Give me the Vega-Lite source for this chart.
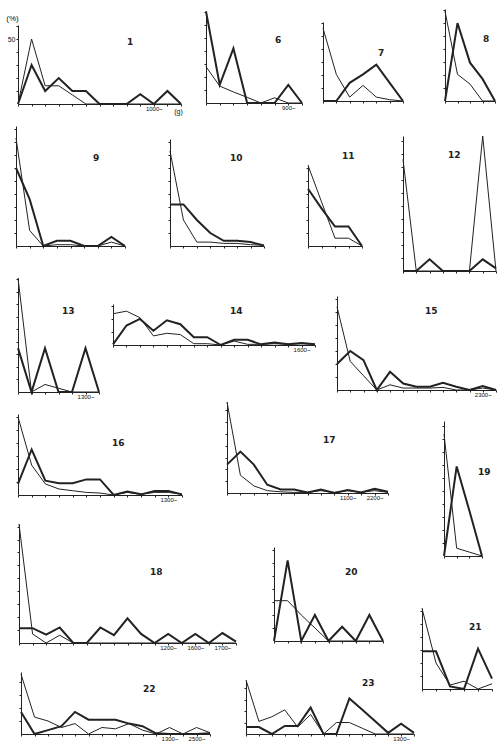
{
"$schema": "https://vega.github.io/schema/vega-lite/v6.json",
"padding": 0,
"autosize": {"type": "pad"},
"background": "white",
"spacing": 0,
"config": {
  "view": {"stroke": null},
  "concat": {"spacing": 0},
  "axis": {"domainColor": "#222", "tickColor": "#222", "tickSize": 2, "grid": false, "labels": false, "labelFontSize": 6, "labelFont": "Liberation Sans", "labelColor": "#111", "labelPadding": -1, "labelOverlap": false, "labelBound": false, "titleFont": "Liberation Sans", "titleColor": "#111", "titleFontWeight": "normal", "domainWidth": 1, "tickWidth": 1},
  "axisX": {"labelAngle": 0},
  "title": {"fontSize": 9, "fontWeight": "bold", "font": "DejaVu Sans", "color": "#222", "anchor": "start", "frame": "group", "offset": 0, "baseline": "middle", "align": "center"},
  "line": {"color": "#222"}
},
"datasets": {
  "p1": [{"i":0,"a":0,"b":0},{"i":1,"a":50,"b":30},{"i":2,"a":14,"b":10},{"i":3,"a":14,"b":20},{"i":4,"a":7,"b":10},{"i":5,"a":0,"b":10},{"i":6,"a":0,"b":0},{"i":7,"a":0,"b":0},{"i":8,"a":0,"b":0},{"i":9,"a":0,"b":7.5},{"i":10,"a":0,"b":0},{"i":11,"a":0,"b":10},{"i":12,"a":0,"b":0}],
  "p6": [{"i":0,"a":28,"b":70.5},{"i":1,"a":13,"b":14},{"i":2,"a":8.5,"b":42},{"i":3,"a":4.4,"b":0},{"i":4,"a":0,"b":0},{"i":5,"a":4,"b":0},{"i":6,"a":0,"b":14},{"i":7,"a":0,"b":0}],
  "p7": [{"i":0,"a":56,"b":0},{"i":1,"a":20.5,"b":0},{"i":2,"a":3,"b":14},{"i":3,"a":12,"b":20.5},{"i":4,"a":3,"b":28},{"i":5,"a":1,"b":14},{"i":6,"a":0,"b":0}],
  "p8": [{"i":0,"a":69,"b":0},{"i":1,"a":20.5,"b":60},{"i":2,"a":13,"b":29.5},{"i":3,"a":0,"b":17},{"i":4,"a":0,"b":0}],
  "p9": [{"i":0,"a":83,"b":60},{"i":1,"a":12,"b":36},{"i":2,"a":0,"b":0},{"i":3,"a":1,"b":4},{"i":4,"a":1,"b":4},{"i":5,"a":0,"b":0},{"i":6,"a":0,"b":0},{"i":7,"a":3,"b":7},{"i":8,"a":0,"b":0}],
  "p10": [{"i":0,"a":73,"b":32},{"i":1,"a":20,"b":32},{"i":2,"a":3,"b":20},{"i":3,"a":3,"b":10},{"i":4,"a":2,"b":4},{"i":5,"a":2,"b":4},{"i":6,"a":1,"b":3},{"i":7,"a":0.5,"b":0.5}],
  "p11": [{"i":0,"a":62,"b":44},{"i":1,"a":34,"b":29},{"i":2,"a":6,"b":15},{"i":3,"a":6,"b":15},{"i":4,"a":0,"b":0}],
  "p12": [{"i":0,"a":86,"b":0},{"i":1,"a":0,"b":0},{"i":2,"a":0,"b":9},{"i":3,"a":0,"b":0},{"i":4,"a":0,"b":0},{"i":5,"a":0,"b":0},{"i":6,"a":104,"b":9},{"i":7,"a":0,"b":2}],
  "p13": [{"i":0,"a":91,"b":35},{"i":1,"a":0,"b":0},{"i":2,"a":6,"b":35},{"i":3,"a":3,"b":0},{"i":4,"a":0,"b":0},{"i":5,"a":0,"b":35},{"i":6,"a":0,"b":0}],
  "p14": [{"i":0,"a":24,"b":0.5},{"i":1,"a":26,"b":15},{"i":2,"a":21,"b":20},{"i":3,"a":7,"b":11},{"i":4,"a":9,"b":19},{"i":5,"a":8,"b":16},{"i":6,"a":1,"b":6},{"i":7,"a":1,"b":6},{"i":8,"a":0,"b":0},{"i":9,"a":3,"b":4},{"i":10,"a":0.5,"b":4},{"i":11,"a":0.5,"b":0.5},{"i":12,"a":1,"b":2},{"i":13,"a":0.5,"b":0.5},{"i":14,"a":1,"b":1.5},{"i":15,"a":0.5,"b":0.5}],
  "p15": [{"i":0,"a":64,"b":20},{"i":1,"a":22,"b":30},{"i":2,"a":11,"b":23},{"i":3,"a":0,"b":0},{"i":4,"a":4,"b":14},{"i":5,"a":1.5,"b":5},{"i":6,"a":1.5,"b":2.5},{"i":7,"a":1.5,"b":2.5},{"i":8,"a":2,"b":5.5},{"i":9,"a":0,"b":2.5},{"i":10,"a":0,"b":0},{"i":11,"a":1.5,"b":3},{"i":12,"a":0,"b":0}],
  "p16": [{"i":0,"a":60,"b":8.5},{"i":1,"a":23,"b":35},{"i":2,"a":8.5,"b":11},{"i":3,"a":4.6,"b":9},{"i":4,"a":3.3,"b":9},{"i":5,"a":2,"b":12},{"i":6,"a":1.5,"b":12},{"i":7,"a":0,"b":0},{"i":8,"a":2,"b":2.6},{"i":9,"a":0.5,"b":0.5},{"i":10,"a":2,"b":3},{"i":11,"a":2,"b":3},{"i":12,"a":0.5,"b":0.5}],
  "p17": [{"i":0,"a":77,"b":24},{"i":1,"a":15,"b":35},{"i":2,"a":6,"b":24},{"i":3,"a":2,"b":7},{"i":4,"a":1,"b":3},{"i":5,"a":0.5,"b":3},{"i":6,"a":0.5,"b":0.5},{"i":7,"a":2,"b":3},{"i":8,"a":0.5,"b":0},{"i":9,"a":2,"b":2.5},{"i":10,"a":0.5,"b":0.5},{"i":11,"a":2,"b":3.5},{"i":12,"a":0.5,"b":1}],
  "p18": [{"i":0,"a":92,"b":11.5},{"i":1,"a":7,"b":11.5},{"i":2,"a":0,"b":6.4},{"i":3,"a":6,"b":12},{"i":4,"a":0,"b":0},{"i":5,"a":0,"b":0},{"i":6,"a":0,"b":12},{"i":7,"a":0,"b":6},{"i":8,"a":0,"b":19},{"i":9,"a":0,"b":7},{"i":10,"a":0,"b":0},{"i":11,"a":0,"b":7},{"i":12,"a":0,"b":0},{"i":13,"a":0,"b":7},{"i":14,"a":0,"b":0},{"i":15,"a":0,"b":7.7},{"i":16,"a":0,"b":1}],
  "p19": [{"i":0,"a":94,"b":0},{"i":1,"a":6,"b":69},{"i":2,"a":3,"b":35},{"i":3,"a":0,"b":0}],
  "p20": [{"i":0,"a":31,"b":0},{"i":1,"a":31,"b":62},{"i":2,"a":20,"b":0},{"i":3,"a":10,"b":20},{"i":4,"a":0,"b":0},{"i":5,"a":0,"b":11},{"i":6,"a":0,"b":0},{"i":7,"a":0,"b":20},{"i":8,"a":0,"b":0}],
  "p21": [{"i":0,"a":62,"b":29},{"i":1,"a":20,"b":29},{"i":2,"a":3,"b":2},{"i":3,"a":6,"b":0},{"i":4,"a":0,"b":31},{"i":5,"a":4,"b":8}],
  "p22": [{"i":0,"a":46,"b":17},{"i":1,"a":13,"b":0},{"i":2,"a":10,"b":3},{"i":3,"a":5,"b":6},{"i":4,"a":8,"b":17},{"i":5,"a":0,"b":11},{"i":6,"a":5,"b":11},{"i":7,"a":4,"b":11},{"i":8,"a":8,"b":8},{"i":9,"a":3,"b":6},{"i":10,"a":0,"b":0.5},{"i":11,"a":5,"b":0},{"i":12,"a":0,"b":0},{"i":13,"a":5,"b":0},{"i":14,"a":1,"b":0.5}],
  "p23": [{"i":0,"a":47,"b":6},{"i":1,"a":11,"b":6},{"i":2,"a":15,"b":0},{"i":3,"a":21,"b":7},{"i":4,"a":6,"b":7},{"i":5,"a":17,"b":23},{"i":6,"a":0,"b":0},{"i":7,"a":10,"b":0},{"i":8,"a":10,"b":31},{"i":9,"a":5,"b":21},{"i":10,"a":0,"b":11},{"i":11,"a":0,"b":1},{"i":12,"a":0,"b":9},{"i":13,"a":0,"b":1}]
},
"vconcat": [
 {"hconcat": [
  {"width": 4.5, "height": 1, "data": {"values": []}, "mark": "point"},
  {"vconcat": [
   {"width": 1, "height": 14, "data": {"values": []}, "mark": "point"},
   {"width": 163, "height": 79, "data": {"name": "p1"}, "title": {"text": "1", "dx": 109, "dy": 37},
    "transform": [{"fold": ["a", "b"], "as": ["s", "v"]}], "mark": "line",
    "encoding": {
     "x": {"field": "i", "type": "ordinal", "scale": {"type": "point", "padding": 0}, "axis": {"labels": true, "labelExpr": "datum.value == 10 ? '1000~' : ''", "title": "(g)", "titleX": 160, "titleY": 7, "titleAlign": "center", "titleBaseline": "middle", "titleFontSize": 7}},
     "y": {"field": "v", "type": "quantitative", "scale": {"domain": [0, 60.8], "nice": false}, "axis": {"values": [10, 20, 30, 40, 50, 60], "labels": true, "labelExpr": "datum.value == 50 ? '50' : ''", "labelFontSize": 7, "labelPadding": 1, "title": "(%)", "titleAngle": 0, "titleX": -6, "titleY": -3, "titleAlign": "center", "titleBaseline": "bottom", "titleFontSize": 8}},
     "strokeWidth": {"field": "s", "type": "ordinal", "scale": {"domain": ["a", "b"], "range": [1, 2]}, "legend": null}}}
  ], "spacing": 0},
  {"width": 16.5, "height": 1, "data": {"values": []}, "mark": "point"},
  {"vconcat": [
   {"width": 1, "height": 7, "data": {"values": []}, "mark": "point"},
   {"width": 96, "height": 92, "data": {"name": "p6"}, "title": {"text": "6", "dx": 69, "dy": 42},
    "transform": [{"fold": ["a", "b"], "as": ["s", "v"]}], "mark": "line",
    "encoding": {
     "x": {"field": "i", "type": "ordinal", "scale": {"type": "point", "padding": 0}, "axis": {"title": null, "labels": true, "labelExpr": "datum.value == 6 ? '900~' : ''"}},
     "y": {"field": "v", "type": "quantitative", "scale": {"domain": [0, 70.8], "nice": false}, "axis": {"values": [10, 20, 30, 40, 50, 60, 70], "title": null}},
     "strokeWidth": {"field": "s", "type": "ordinal", "scale": {"domain": ["a", "b"], "range": [1, 2]}, "legend": null}}}
  ], "spacing": 0},
  {"width": 12.5, "height": 1, "data": {"values": []}, "mark": "point"},
  {"vconcat": [
   {"width": 1, "height": 22, "data": {"values": []}, "mark": "point"},
   {"width": 80, "height": 79, "data": {"name": "p7"}, "title": {"text": "7", "dx": 55, "dy": 40},
    "transform": [{"fold": ["a", "b"], "as": ["s", "v"]}], "mark": "line",
    "encoding": {
     "x": {"field": "i", "type": "ordinal", "scale": {"type": "point", "padding": 0}, "axis": {"title": null}},
     "y": {"field": "v", "type": "quantitative", "scale": {"domain": [0, 60.8], "nice": false}, "axis": {"values": [10, 20, 30, 40, 50, 60], "title": null}},
     "strokeWidth": {"field": "s", "type": "ordinal", "scale": {"domain": ["a", "b"], "range": [1, 2]}, "legend": null}}}
  ], "spacing": 0},
  {"width": 33.5, "height": 1, "data": {"values": []}, "mark": "point"},
  {"vconcat": [
   {"width": 1, "height": 9, "data": {"values": []}, "mark": "point"},
   {"width": 50, "height": 92, "data": {"name": "p8"}, "title": {"text": "8", "dx": 38, "dy": 39},
    "transform": [{"fold": ["a", "b"], "as": ["s", "v"]}], "mark": "line",
    "encoding": {
     "x": {"field": "i", "type": "ordinal", "scale": {"type": "point", "padding": 0}, "axis": {"title": null}},
     "y": {"field": "v", "type": "quantitative", "scale": {"domain": [0, 70.8], "nice": false}, "axis": {"values": [10, 20, 30, 40, 50, 60, 70], "title": null}},
     "strokeWidth": {"field": "s", "type": "ordinal", "scale": {"domain": ["a", "b"], "range": [1, 2]}, "legend": null}}}
  ], "spacing": 0}
 ], "spacing": 0},
 {"hconcat": [
  {"width": 11.5, "height": 1, "data": {"values": []}, "mark": "point"},
  {"vconcat": [
   {"width": 1, "height": 12, "data": {"values": []}, "mark": "point"},
   {"width": 109, "height": 120, "data": {"name": "p9"}, "title": {"text": "9", "dx": 77, "dy": 41},
    "transform": [{"fold": ["a", "b"], "as": ["s", "v"]}], "mark": "line",
    "encoding": {
     "x": {"field": "i", "type": "ordinal", "scale": {"type": "point", "padding": 0}, "axis": {"title": null}},
     "y": {"field": "v", "type": "quantitative", "scale": {"domain": [0, 92.3], "nice": false}, "axis": {"values": [10, 20, 30, 40, 50, 60, 70, 80, 90], "title": null}},
     "strokeWidth": {"field": "s", "type": "ordinal", "scale": {"domain": ["a", "b"], "range": [1, 2]}, "legend": null}}}
  ], "spacing": 0},
  {"width": 36.5, "height": 1, "data": {"values": []}, "mark": "point"},
  {"vconcat": [
   {"width": 1, "height": 25, "data": {"values": []}, "mark": "point"},
   {"width": 94, "height": 107, "data": {"name": "p10"}, "title": {"text": "10", "dx": 60, "dy": 28},
    "transform": [{"fold": ["a", "b"], "as": ["s", "v"]}], "mark": "line",
    "encoding": {
     "x": {"field": "i", "type": "ordinal", "scale": {"type": "point", "padding": 0}, "axis": {"title": null}},
     "y": {"field": "v", "type": "quantitative", "scale": {"domain": [0, 82.3], "nice": false}, "axis": {"values": [10, 20, 30, 40, 50, 60, 70, 80], "title": null}},
     "strokeWidth": {"field": "s", "type": "ordinal", "scale": {"domain": ["a", "b"], "range": [1, 2]}, "legend": null}}}
  ], "spacing": 0},
  {"width": 35.5, "height": 1, "data": {"values": []}, "mark": "point"},
  {"vconcat": [
   {"width": 1, "height": 37.5, "data": {"values": []}, "mark": "point"},
   {"width": 54, "height": 81, "data": {"name": "p11"}, "title": {"text": "11", "dx": 34, "dy": 2},
    "transform": [{"fold": ["a", "b"], "as": ["s", "v"]}], "mark": "line",
    "encoding": {
     "x": {"field": "i", "type": "ordinal", "scale": {"type": "point", "padding": 0}, "axis": {"title": null}},
     "y": {"field": "v", "type": "quantitative", "scale": {"domain": [0, 62.3], "nice": false}, "axis": {"values": [10, 20, 30, 40, 50, 60], "title": null}},
     "strokeWidth": {"field": "s", "type": "ordinal", "scale": {"domain": ["a", "b"], "range": [1, 2]}, "legend": null}}}
  ], "spacing": 0},
  {"width": 32.5, "height": 1, "data": {"values": []}, "mark": "point"},
  {"vconcat": [
   {"width": 1, "height": 20, "data": {"values": []}, "mark": "point"},
   {"width": 93, "height": 135, "data": {"name": "p12"}, "title": {"text": "12", "dx": 45, "dy": 30},
    "transform": [{"fold": ["a", "b"], "as": ["s", "v"]}], "mark": "line",
    "encoding": {
     "x": {"field": "i", "type": "ordinal", "scale": {"type": "point", "padding": 0}, "axis": {"title": null}},
     "y": {"field": "v", "type": "quantitative", "scale": {"domain": [0, 104], "nice": false}, "axis": {"values": [10, 20, 30, 40, 50, 60, 70, 80, 90, 100], "title": null}},
     "strokeWidth": {"field": "s", "type": "ordinal", "scale": {"domain": ["a", "b"], "range": [1, 2]}, "legend": null}}}
  ], "spacing": 0}
 ], "spacing": 0},
 {"hconcat": [
  {"width": 13.5, "height": 1, "data": {"values": []}, "mark": "point"},
  {"vconcat": [
   {"width": 1, "height": 1, "data": {"values": []}, "mark": "point"},
   {"width": 81, "height": 114, "data": {"name": "p13"}, "title": {"text": "13", "dx": 44, "dy": 44},
    "transform": [{"fold": ["a", "b"], "as": ["s", "v"]}], "mark": "line",
    "encoding": {
     "x": {"field": "i", "type": "ordinal", "scale": {"type": "point", "padding": 0}, "axis": {"title": null, "labels": true, "labelExpr": "datum.value == 5 ? '1300~' : ''"}},
     "y": {"field": "v", "type": "quantitative", "scale": {"domain": [0, 91], "nice": false}, "axis": {"values": [10, 20, 30, 40, 50, 60, 70, 80, 90], "title": null}},
     "strokeWidth": {"field": "s", "type": "ordinal", "scale": {"domain": ["a", "b"], "range": [1, 2]}, "legend": null}}}
  ], "spacing": 0},
  {"width": 5.5, "height": 1, "data": {"values": []}, "mark": "point"},
  {"vconcat": [
   {"width": 1, "height": 29, "data": {"values": []}, "mark": "point"},
   {"width": 202, "height": 41, "data": {"name": "p14"}, "title": {"text": "14", "dx": 117, "dy": 16},
    "transform": [{"fold": ["a", "b"], "as": ["s", "v"]}], "mark": "line",
    "encoding": {
     "x": {"field": "i", "type": "ordinal", "scale": {"type": "point", "padding": 0}, "axis": {"title": null, "labels": true, "labelExpr": "datum.value == 14 ? '1600~' : ''"}},
     "y": {"field": "v", "type": "quantitative", "scale": {"domain": [0, 31.5], "nice": false}, "axis": {"values": [10, 20, 30], "title": null}},
     "strokeWidth": {"field": "s", "type": "ordinal", "scale": {"domain": ["a", "b"], "range": [1, 2]}, "legend": null}}}
  ], "spacing": 0},
  {"width": 13.5, "height": 1, "data": {"values": []}, "mark": "point"},
  {"vconcat": [
   {"width": 1, "height": 21, "data": {"values": []}, "mark": "point"},
   {"width": 159, "height": 94, "data": {"name": "p15"}, "title": {"text": "15", "dx": 88, "dy": 24},
    "transform": [{"fold": ["a", "b"], "as": ["s", "v"]}], "mark": "line",
    "encoding": {
     "x": {"field": "i", "type": "ordinal", "scale": {"type": "point", "padding": 0}, "axis": {"title": null, "labels": true, "labelDx": 5, "labelExpr": "datum.value == 11 ? '2300~' : ''"}},
     "y": {"field": "v", "type": "quantitative", "scale": {"domain": [0, 72.3], "nice": false}, "axis": {"values": [10, 20, 30, 40, 50, 60, 70], "title": null}},
     "strokeWidth": {"field": "s", "type": "ordinal", "scale": {"domain": ["a", "b"], "range": [1, 2]}, "legend": null}}}
  ], "spacing": 0}
 ], "spacing": 0},
 {"hconcat": [
  {"vconcat": [
   {"hconcat": [
    {"width": 13.5, "height": 1, "data": {"values": []}, "mark": "point"},
    {"vconcat": [
     {"width": 1, "height": 15, "data": {"values": []}, "mark": "point"},
     {"width": 164, "height": 81, "data": {"name": "p16"}, "title": {"text": "16", "dx": 94, "dy": 38},
      "transform": [{"fold": ["a", "b"], "as": ["s", "v"]}], "mark": "line",
      "encoding": {
       "x": {"field": "i", "type": "ordinal", "scale": {"type": "point", "padding": 0}, "axis": {"title": null, "labels": true, "labelDx": 4, "labelExpr": "datum.value == 11 ? '1300~' : ''"}},
       "y": {"field": "v", "type": "quantitative", "scale": {"domain": [0, 62.3], "nice": false}, "axis": {"values": [10, 20, 30, 40, 50, 60], "title": null}},
       "strokeWidth": {"field": "s", "type": "ordinal", "scale": {"domain": ["a", "b"], "range": [1, 2]}, "legend": null}}}
    ], "spacing": 0},
    {"width": 36.5, "height": 1, "data": {"values": []}, "mark": "point"},
    {"vconcat": [
     {"width": 1, "height": 1, "data": {"values": []}, "mark": "point"},
     {"width": 161, "height": 91, "data": {"name": "p17"}, "title": {"text": "17", "dx": 96, "dy": 49},
      "transform": [{"fold": ["a", "b"], "as": ["s", "v"]}], "mark": "line",
      "encoding": {
       "x": {"field": "i", "type": "ordinal", "scale": {"type": "point", "padding": 0}, "axis": {"title": null, "labels": true, "labelDx": 3, "labelExpr": "datum.value == 9 ? '1100~' : datum.value == 11 ? '2200~' : ''"}},
       "y": {"field": "v", "type": "quantitative", "scale": {"domain": [0, 77], "nice": false}, "axis": {"values": [10, 20, 30, 40, 50, 60, 70], "title": null}},
       "strokeWidth": {"field": "s", "type": "ordinal", "scale": {"domain": ["a", "b"], "range": [1, 2]}, "legend": null}}}
    ], "spacing": 0}
   ], "spacing": 0},
   {"hconcat": [
    {"width": 14.5, "height": 1, "data": {"values": []}, "mark": "point"},
    {"vconcat": [
     {"width": 1, "height": 20, "data": {"values": []}, "mark": "point"},
     {"width": 217, "height": 119, "data": {"name": "p18"}, "title": {"text": "18", "dx": 131, "dy": 59},
      "transform": [{"fold": ["a", "b"], "as": ["s", "v"]}], "mark": "line",
      "encoding": {
       "x": {"field": "i", "type": "ordinal", "scale": {"type": "point", "padding": 0}, "axis": {"title": null, "labels": true, "labelExpr": "datum.value == 11 ? '1200~' : datum.value == 13 ? '1600~' : datum.value == 15 ? '1700~' : ''"}},
       "y": {"field": "v", "type": "quantitative", "scale": {"domain": [0, 92], "nice": false}, "axis": {"values": [10, 20, 30, 40, 50, 60, 70, 80, 90], "title": null}},
       "strokeWidth": {"field": "s", "type": "ordinal", "scale": {"domain": ["a", "b"], "range": [1, 2]}, "legend": null}}}
    ], "spacing": 0},
    {"width": 29.5, "height": 1, "data": {"values": []}, "mark": "point"},
    {"vconcat": [
     {"width": 1, "height": 45, "data": {"values": []}, "mark": "point"},
     {"width": 109, "height": 94, "data": {"name": "p20"}, "title": {"text": "20", "dx": 71, "dy": 34},
      "transform": [{"fold": ["a", "b"], "as": ["s", "v"]}], "mark": "line",
      "encoding": {
       "x": {"field": "i", "type": "ordinal", "scale": {"type": "point", "padding": 0}, "axis": {"title": null}},
       "y": {"field": "v", "type": "quantitative", "scale": {"domain": [0, 72.3], "nice": false}, "axis": {"values": [10, 20, 30, 40, 50, 60, 70], "title": null}},
       "strokeWidth": {"field": "s", "type": "ordinal", "scale": {"domain": ["a", "b"], "range": [1, 2]}, "legend": null}}}
    ], "spacing": 0}
   ], "spacing": 0},
   {"hconcat": [
    {"width": 16.5, "height": 1, "data": {"values": []}, "mark": "point"},
    {"vconcat": [
     {"width": 1, "height": 22, "data": {"values": []}, "mark": "point"},
     {"width": 189, "height": 62, "data": {"name": "p22"}, "title": {"text": "22", "dx": 122, "dy": 26},
      "transform": [{"fold": ["a", "b"], "as": ["s", "v"]}], "mark": "line",
      "encoding": {
       "x": {"field": "i", "type": "ordinal", "scale": {"type": "point", "padding": 0}, "axis": {"title": null, "labels": true, "labelDx": 2, "labelExpr": "datum.value == 11 ? '1300~' : datum.value == 13 ? '2500~' : ''"}},
       "y": {"field": "v", "type": "quantitative", "scale": {"domain": [0, 47.7], "nice": false}, "axis": {"values": [10, 20, 30, 40], "title": null}},
       "strokeWidth": {"field": "s", "type": "ordinal", "scale": {"domain": ["a", "b"], "range": [1, 2]}, "legend": null}}}
    ], "spacing": 0},
    {"width": 27.5, "height": 1, "data": {"values": []}, "mark": "point"},
    {"vconcat": [
     {"width": 1, "height": 28, "data": {"values": []}, "mark": "point"},
     {"width": 168, "height": 54, "data": {"name": "p23"}, "title": {"text": "23", "dx": 116, "dy": 14},
      "transform": [{"fold": ["a", "b"], "as": ["s", "v"]}], "mark": "line",
      "encoding": {
       "x": {"field": "i", "type": "ordinal", "scale": {"type": "point", "padding": 0}, "axis": {"title": null, "labels": true, "labelDx": 4, "labelExpr": "datum.value == 12 ? '1300~' : ''"}},
       "y": {"field": "v", "type": "quantitative", "scale": {"domain": [0, 47], "nice": false}, "axis": {"values": [10, 20, 30, 40], "title": null}},
       "strokeWidth": {"field": "s", "type": "ordinal", "scale": {"domain": ["a", "b"], "range": [1, 2]}, "legend": null}}}
    ], "spacing": 0}
   ], "spacing": 0}
  ], "spacing": 0},
  {"vconcat": [
   {"hconcat": [
    {"width": 18, "height": 1, "data": {"values": []}, "mark": "point"},
    {"vconcat": [
     {"width": 1, "height": 22, "data": {"values": []}, "mark": "point"},
     {"width": 38, "height": 135, "data": {"name": "p19"}, "title": {"text": "19", "dx": 34, "dy": 60},
      "transform": [{"fold": ["a", "b"], "as": ["s", "v"]}], "mark": "line",
      "encoding": {
       "x": {"field": "i", "type": "ordinal", "scale": {"type": "point", "padding": 0}, "axis": {"title": null}},
       "y": {"field": "v", "type": "quantitative", "scale": {"domain": [0, 104], "nice": false}, "axis": {"values": [10, 20, 30, 40, 50, 60, 70, 80, 90, 100], "title": null}},
       "strokeWidth": {"field": "s", "type": "ordinal", "scale": {"domain": ["a", "b"], "range": [1, 2]}, "legend": null}}}
    ], "spacing": 0}
   ], "spacing": 0},
   {"width": 1, "height": 46, "data": {"values": []}, "mark": "point"},
   {"width": 70, "height": 81, "data": {"name": "p21"}, "title": {"text": "21", "dx": 47, "dy": 30},
    "transform": [{"fold": ["a", "b"], "as": ["s", "v"]}], "mark": "line",
    "encoding": {
     "x": {"field": "i", "type": "ordinal", "scale": {"type": "point", "padding": 0}, "axis": {"title": null}},
     "y": {"field": "v", "type": "quantitative", "scale": {"domain": [0, 62.3], "nice": false}, "axis": {"values": [10, 20, 30, 40, 50, 60], "title": null}},
     "strokeWidth": {"field": "s", "type": "ordinal", "scale": {"domain": ["a", "b"], "range": [1, 2]}, "legend": null}}}
  ], "spacing": 0}
 ], "spacing": 0}
]
}
